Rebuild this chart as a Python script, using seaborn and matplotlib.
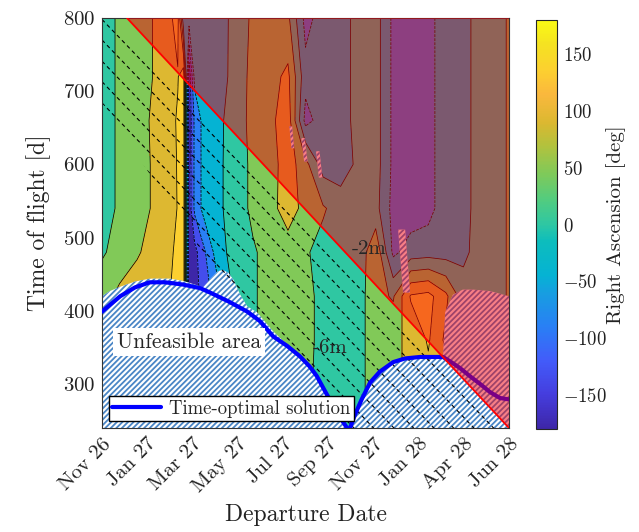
import numpy as np
import matplotlib
matplotlib.use("Agg")
import matplotlib.pyplot as plt
import seaborn as sns
from matplotlib.colors import LinearSegmentedColormap, Normalize
from matplotlib.patches import Polygon
from matplotlib.lines import Line2D
from matplotlib.cm import ScalarMappable

# departure date (days after 1 Nov 2026) and time of flight (days) of the grid
dep_nodes = [0, 25, 50, 75, 95, 108, 116, 124, 132, 145, 165, 190, 215, 240,
             265, 290, 315, 340, 365, 390, 415, 440, 465, 490, 515, 540, 560, 580]
tof_nodes = [240, 300, 360, 420, 480, 540, 600, 660, 720, 800]

# right ascension [deg], one row per time of flight
ra_tof240 = [70, 102, 110, 120, 132, 150, 170, -170, -150, -120, -60, 10, 40, 60,
             75, 55, 35, 25, 35, 60, 80, 100, 120, 130, 120, 60, 40, 50]
ra_tof300 = [70, 102, 110, 120, 132, 150, 170, -170, -150, -120, -60, 10, 40, 60,
             75, 55, 30, 20, 35, 60, 80, 100, 120, 130, 120, 60, 40, 50]
ra_tof360 = [70, 102, 110, 120, 132, 150, 170, -170, -150, -120, -60, 10, 40, 60,
             75, 55, 35, 20, 35, 60, 80, 100, 140, 80, 60, 40, 30, 50]
ra_tof420 = [70, 102, 110, 120, 132, 150, 170, -170, -150, -120, -60, 10, 40, 60,
             75, 55, 35, 20, 35, 60, 40, 140, 150, 100, 20, 20, 25, 50]
ra_tof480 = [40, 60, 86, 105, 125, 145, 170, -165, -150, -100, -20, 20, 40, 60,
             75, 50, 30, 20, 15, 80, -55, -25, -20, -20, -10, 20, 25, 50]
ra_tof540 = [22, 53, 75, 95, 115, 137, 170, -165, -80, -30, -10, 23, 54, 80,
             105, 80, 50, 25, 20, 15, -60, -70, -60, -20, -15, 20, 25, 50]
ra_tof600 = [22, 53, 75, 95, 115, 138, 170, -165, -80, -30, -10, 23, 54, 70,
             115, 60, -20, -25, 10, 20, -55, -70, -60, -20, -15, 20, 25, 50]
ra_tof660 = [22, 53, 75, 97, 118, 140, 165, -170, -80, -30, -10, 20, 60, 80,
             115, -60, -25, -20, 15, 20, -55, -70, -60, -20, -15, 20, 25, 50]
ra_tof720 = [22, 53, 75, 92, 115, 132, 165, -170, -30, -25, -20, 15, 60, 75,
             100, -30, -25, -20, 15, 20, -55, -70, -60, -20, -15, 20, 25, 50]
ra_tof800 = [22, 53, 75, 92, 125, 150, -30, -25, -25, -20, -15, 10, 55, 70,
             55, -60, -25, -20, 15, 20, -55, -70, -60, -20, -15, 20, 25, 50]

# time-optimal solution
opt_dep = [0, 26, 47, 68, 90, 115, 140, 154, 180, 207, 225, 244, 264, 282, 296, 306,
           318, 332, 343, 352, 360, 370, 382, 396, 415, 432, 453, 475, 486, 496,
           510, 524, 539, 553, 567, 580]
opt_tof = [399, 420, 432, 439, 439, 436, 431, 425, 413, 399, 386, 365, 352, 338, 324, 311,
           290, 266, 249, 236, 257, 279, 302, 317, 330, 335, 337, 337, 337, 331,
           322, 311, 300, 289, 281, 279]

# unfeasible areas
unf_left_dep = [0, 0, 11, 26, 47, 68, 97, 115, 132, 144, 154, 165, 172, 180, 187, 197,
                207, 221, 244, 268, 289, 306, 321, 335, 346, 353]
unf_left_tof = [240, 420, 427, 433, 440, 444, 444, 441, 436, 432, 443, 454, 456, 452, 443, 422,
                406, 398, 372, 350, 334, 312, 289, 263, 247, 240]
unf_right_dep = [353, 360, 370, 382, 396, 415, 432, 453, 475, 486, 489, 500, 514, 529, 553, 580, 580]
unf_right_tof = [240, 257, 279, 302, 317, 330, 335, 337, 337, 338, 398, 422, 429, 429, 427, 420, 240]
isl1_dep, isl1_tof = [267, 271, 274, 270], [652, 652, 622, 622]
isl2_dep, isl2_tof = [284, 289, 293, 288], [636, 636, 604, 604]
isl3_dep, isl3_tof = [305, 310, 314, 309], [618, 618, 582, 582]
isl4_dep, isl4_tof = [422, 432, 439, 429], [511, 511, 425, 425]

# arrival-date constraint (red) and month lines before it (dashed)
red_dep = [35.6, 580]
red_tof = [800, 240]
arrival_dash = [798, 770, 741, 713, 684, 656, 627, 599]
zone_dep = [0, 0, 35.6, 580, 353, 346, 335, 321, 306, 289, 244, 207, 187]
zone_tof = [684, 800, 800, 240, 240, 247, 263, 289, 312, 334, 372, 406, 417]

x_ticks = [0, 64, 129, 193, 258, 322, 387, 451, 516, 580]
x_labels = ["Nov 26", "Jan 27", "Mar 27", "May 27", "Jul 27", "Sep 27",
            "Nov 27", "Jan 28", "Apr 28", "Jun 28"]
cb_ticks = [-150, -100, -50, 0, 50, 100, 150]

# parula-like colour map, anchored on (value + 180) / 360
parula = LinearSegmentedColormap.from_list("parula", [
    (0.000, (0.24, 0.15, 0.66)), (0.083, (0.27, 0.24, 0.87)),
    (0.167, (0.26, 0.36, 0.98)), (0.250, (0.16, 0.50, 0.96)),
    (0.333, (0.09, 0.62, 0.88)), (0.375, (0.02, 0.70, 0.83)),
    (0.458, (0.05, 0.74, 0.74)), (0.500, (0.18, 0.78, 0.64)),
    (0.560, (0.32, 0.80, 0.50)), (0.625, (0.50, 0.79, 0.35)),
    (0.694, (0.70, 0.76, 0.24)), (0.750, (0.86, 0.72, 0.19)),
    (0.819, (0.98, 0.72, 0.24)), (0.875, (0.99, 0.81, 0.19)),
    (0.944, (0.96, 0.89, 0.13)), (1.000, (0.98, 0.98, 0.08))])

sns.set_style("white")
plt.rcParams["font.family"] = "serif"
plt.rcParams["font.serif"] = ["cmr10"]
plt.rcParams["mathtext.fontset"] = "cm"
plt.rcParams["axes.formatter.use_mathtext"] = True
plt.rcParams["hatch.linewidth"] = 1.3
plt.rcParams["hatch.color"] = "#4a86c6"
txt = "#222222"

fig = plt.figure(figsize=(6.39, 5.32), dpi=100)
ax = fig.add_axes([102 / 639, 1 - 428 / 532, 407 / 639, 410 / 532])
cax = fig.add_axes([536 / 639, 1 - 429 / 532, 21 / 639, 409 / 532])

X, Y = np.meshgrid(dep_nodes, tof_nodes)
Z = np.array([ra_tof240, ra_tof300, ra_tof360, ra_tof420, ra_tof480,
              ra_tof540, ra_tof600, ra_tof660, ra_tof720, ra_tof800])
levels = np.arange(-180, 181, 45)
# matlab fills each band with the colour of its lower level
ax.contourf(X, Y, Z, levels=levels, cmap=parula, norm=Normalize(-157.5, 202.5), zorder=1)
ax.contour(X, Y, Z, levels=levels, colors="k", linewidths=0.55, zorder=1.5)

# unfeasible areas
for deps, tofs in [(unf_left_dep, unf_left_tof), (unf_right_dep, unf_right_tof),
                   (isl1_dep, isl1_tof), (isl2_dep, isl2_tof),
                   (isl3_dep, isl3_tof), (isl4_dep, isl4_tof)]:
    ax.add_patch(Polygon(np.column_stack([deps, tofs]), closed=True, facecolor="white",
                         edgecolor="#4a86c6", hatch="//////", lw=0, zorder=2))

# dashed month lines
zone = Polygon(np.column_stack([zone_dep, zone_tof]), closed=True,
               transform=ax.transData, fc="none", ec="none")
dep_line = np.array([0.0, 580.0])
for a in arrival_dash:
    ln, = ax.plot(dep_line, a - dep_line, color="k", lw=0.8, ls=(0, (3.5, 3)), zorder=2.5)
    ln.set_clip_path(zone)

sns.lineplot(x=opt_dep, y=opt_tof, sort=False, estimator=None, color="blue", lw=3,
             ax=ax, zorder=3, legend=False)

# region beyond the arrival constraint
ax.add_patch(Polygon([(red_dep[0], red_tof[0]), (580, 800), (red_dep[1], red_tof[1])],
                     closed=True, fc=(0.95, 0.0, 0.05), alpha=0.5, lw=0, zorder=4))
ax.plot(red_dep, red_tof, color="red", lw=1.3, zorder=5)

ax.text(380, 485, "-2m", fontsize=15, ha="center", va="center", zorder=6)
ax.text(325, 349, "-6m", fontsize=15, ha="center", va="center", zorder=6)
ax.text(124, 357, "Unfeasible area", fontsize=15.5, ha="center", va="center", zorder=6,
        bbox=dict(boxstyle="square,pad=0.2", fc="white", ec="none"))

leg = ax.legend([Line2D([], [], color="blue", lw=3)], ["Time-optimal solution"],
                loc="lower left", fontsize=13.5, frameon=True, fancybox=False,
                edgecolor="black", framealpha=1, handlelength=2.6, handletextpad=0.4,
                borderpad=0.2, borderaxespad=0.35)
leg.get_frame().set_linewidth(1.0)
leg.set_zorder(10)

ax.set_xlim(0, 580)
ax.set_ylim(240, 800)
ax.set_xticks(x_ticks)
ax.set_xticklabels(x_labels, rotation=45, ha="right", va="top", rotation_mode="anchor")
ax.set_yticks([300, 400, 500, 600, 700, 800])
ax.tick_params(direction="in", length=4, width=0.6, top=True, right=True,
               labelsize=15, colors="#333333", labelcolor=txt, pad=5)
for s in ax.spines.values():
    s.set_linewidth(0.8)
    s.set_color("#333333")
ax.set_xlabel("Departure Date", fontsize=17, color=txt, labelpad=6)
ax.set_ylabel("Time of flight [d]", fontsize=17, color=txt, labelpad=8)

sm = ScalarMappable(norm=Normalize(-180, 180), cmap=parula)
cb = fig.colorbar(sm, cax=cax, ticks=cb_ticks)
cb.ax.tick_params(direction="in", length=4, width=0.8, labelsize=13.5, labelcolor=txt, pad=4)
cb.outline.set_linewidth(0.8)
cb.set_label("Right Ascension [deg]", fontsize=15, color=txt, labelpad=0)

fig.savefig("out.png", dpi=100)
